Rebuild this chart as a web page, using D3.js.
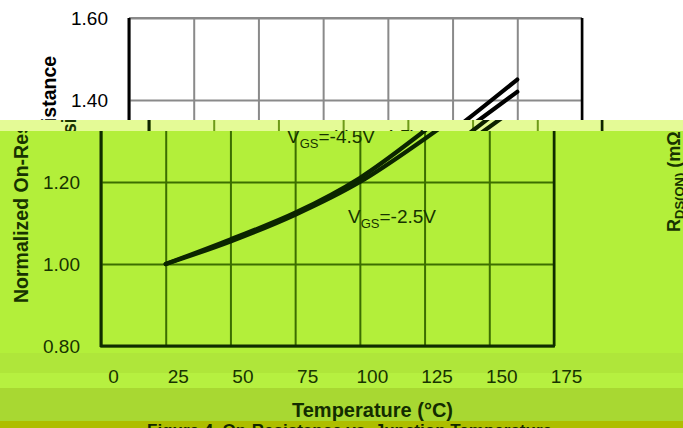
<!DOCTYPE html>
<html>
<head>
<meta charset="utf-8">
<script src="https://cdn.jsdelivr.net/npm/d3@7"></script>
<style>
html,body{margin:0;padding:0;background:#fff;}
svg{display:block;}
</style>
</head>
<body>
<svg id="chart" width="683" height="428"></svg>
<script>
// ---- data ----
const temps = [25, 50, 75, 100, 125, 150];
const vgs45 = [1.00, 1.06, 1.125, 1.21, 1.325, 1.45];
const vgs25 = [1.00, 1.055, 1.12, 1.20, 1.305, 1.42];
const seriesNames = ["-4.5V", "-2.5V"];
const xTicks = [0, 25, 50, 75, 100, 125, 150, 175];
const yTicks = [0.80, 1.00, 1.20, 1.40, 1.60];
const xTitle = "Temperature (°C)";
const yTitle = "Normalized On-Resistance";
const caption = "Figure 4. On-Resistance vs. Junction Temperature";

// ---- layout ----
const svg = d3.select("#chart");
const FONT = "'Liberation Sans', Arial, sans-serif";
const x = d3.scaleLinear().domain([0, 175]).range([129, 582]);
const y = d3.scaleLinear().domain([0.8, 1.6]).range([346, 18]);
const line = d3.line().x(d => x(d[0])).y(d => y(d[1])).curve(d3.curveMonotoneX);
const series = [
  { name: seriesNames[0], pts: temps.map((t, i) => [t, vgs45[i]]) },
  { name: seriesNames[1], pts: temps.map((t, i) => [t, vgs25[i]]) }
];

const bands = [
  { y0: 0,   y1: 120, dx: 0,   bg: "#ffffff", grid: "#8a8a8a", axis: "#000000", ink: "#000000", text: "#000000" },
  { y0: 120, y1: 131, dx: 20,  bg: "#e4fa96", grid: "#6e9a18", axis: "#0f2400", ink: "#0d2200", text: "#1a3300" },
  { y0: 131, y1: 353, dx: -28, bg: "#b3ef3a", grid: "#3c6e00", axis: "#102c00", ink: "#0b2500", text: "#173300" },
  { y0: 353, y1: 373, dx: -16, bg: "#afe63a", grid: "#3c6e00", axis: "#102c00", ink: "#0b2500", text: "#173300" },
  { y0: 373, y1: 388, dx: -16, bg: "#b6f040", grid: "#3c6e00", axis: "#102c00", ink: "#0b2500", text: "#173300" },
  { y0: 388, y1: 421, dx: 17,  bg: "#a8d832", grid: "#3c6e00", axis: "#102c00", ink: "#0b2500", text: "#132c00" },
  { y0: 421, y1: 428, dx: 0,   bg: "#aebe00", grid: "#3c6e00", axis: "#102c00", ink: "#0b2500", text: "#132800" }
];

const defs = svg.append("defs");

function drawChart(g, c) {
  // y gridlines + tick labels
  const ya = g.append("g")
    .call(d3.axisLeft(y).tickValues(yTicks).tickFormat(d3.format(".2f"))
      .tickSize(-(x(175) - x(0))).tickPadding(21))
    .attr("transform", `translate(${x(0)},0)`);
  ya.select(".domain").remove();
  ya.selectAll("line").attr("stroke", c.grid).attr("stroke-width", 2);
  ya.selectAll("text").attr("font-family", FONT).attr("font-size", 19)
    .attr("fill", c.text).attr("dy", "0.34em");

  // x gridlines + tick labels
  const xa = g.append("g")
    .call(d3.axisBottom(x).tickValues(xTicks).tickFormat(d3.format("d"))
      .tickSize(-(y(0.8) - y(1.6))).tickPadding(24))
    .attr("transform", `translate(0,${y(0.8)})`);
  xa.select(".domain").remove();
  xa.selectAll("line").attr("stroke", c.grid).attr("stroke-width", 2);
  xa.selectAll("text").attr("font-family", FONT).attr("font-size", 19).attr("fill", c.text);

  // frame
  g.append("line").attr("x1", x(0)).attr("x2", x(175)).attr("y1", y(1.6)).attr("y2", y(1.6))
    .attr("stroke", c.grid).attr("stroke-width", 2);
  g.append("line").attr("x1", x(175)).attr("x2", x(175)).attr("y1", y(1.6)).attr("y2", y(0.8))
    .attr("stroke", c.axis).attr("stroke-width", 2.5);
  g.append("line").attr("x1", x(0)).attr("x2", x(0)).attr("y1", y(1.6)).attr("y2", y(0.8) + 1)
    .attr("stroke", c.axis).attr("stroke-width", 3);
  g.append("line").attr("x1", x(0) - 1).attr("x2", x(175) + 1).attr("y1", y(0.8)).attr("y2", y(0.8))
    .attr("stroke", c.axis).attr("stroke-width", 3);

  // series
  g.selectAll(".series").data(series).join("path")
    .attr("d", d => line(d.pts))
    .attr("fill", "none").attr("stroke", c.ink).attr("stroke-width", 4.2).attr("stroke-linecap", "round");

  // series labels
  const lab = [
    { s: series[0], x: 315, y: 143 },
    { s: series[1], x: 376, y: 223 }
  ];
  lab.forEach(l => {
    const t = g.append("text").attr("x", l.x).attr("y", l.y)
      .attr("font-family", FONT).attr("font-size", 19).attr("fill", c.text);
    t.append("tspan").text("V");
    t.append("tspan").text("GS").attr("font-size", 13).attr("dy", 5);
    t.append("tspan").text("=" + l.s.name).attr("dy", -5);
  });

  // y title
  g.append("text").attr("transform", "translate(56,303) rotate(-90)")
    .attr("font-family", FONT).attr("font-size", 19.5).attr("font-weight", "bold")
    .attr("fill", c.text).text(yTitle);

  // right title
  const rt = g.append("text").attr("transform", "translate(708,232) rotate(-90)")
    .attr("font-family", FONT).attr("font-size", 18).attr("font-weight", "bold").attr("fill", c.text);
  rt.append("tspan").text("R");
  rt.append("tspan").text("DS(ON)").attr("font-size", 13).attr("dy", 4);
  rt.append("tspan").text(" (mΩ)").attr("dy", -4);

  // x title
  g.append("text").attr("x", (x(0) + x(175)) / 2).attr("y", 417).attr("text-anchor", "middle")
    .attr("font-family", FONT).attr("font-size", 20).attr("font-weight", "bold")
    .attr("fill", c.text).text(xTitle);

  // caption
  g.append("text").attr("x", 147).attr("y", 436)
    .attr("font-family", FONT).attr("font-size", 17).attr("font-weight", "bold")
    .attr("fill", c.text).text(caption);
}

bands.forEach((b, i) => {
  defs.append("clipPath").attr("id", "clip" + i)
    .append("rect").attr("x", 0).attr("y", b.y0).attr("width", 683).attr("height", b.y1 - b.y0);
  const bg = svg.append("g").attr("clip-path", `url(#clip${i})`);
  bg.append("rect").attr("x", 0).attr("y", b.y0).attr("width", 683).attr("height", b.y1 - b.y0).attr("fill", b.bg);
  const g = bg.append("g").attr("transform", `translate(${b.dx},0)`);
  drawChart(g, b);
});
</script>
</body>
</html>
